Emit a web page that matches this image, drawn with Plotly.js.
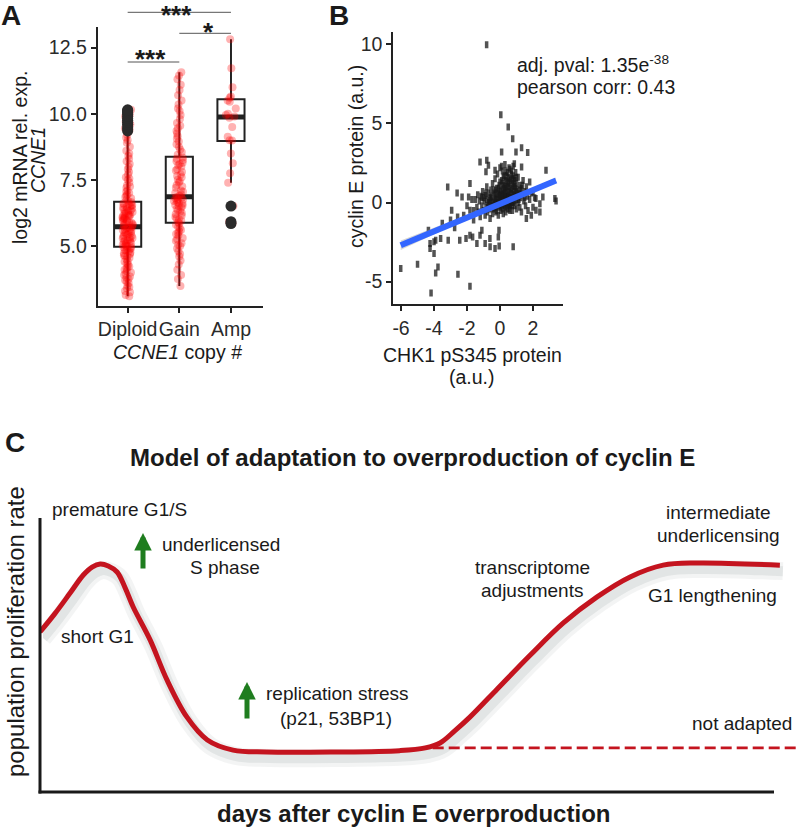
<!DOCTYPE html>
<html><head><meta charset="utf-8">
<script src="https://cdn.plot.ly/plotly-3.0.1.min.js"></script>
<style>html,body{margin:0;padding:0;background:#fff}#chart{width:806px;height:827px}</style>
</head><body><div id="chart"></div>
<script>
// ---------- Panel A data ----------
const cats = ['Diploid', 'Gain', 'Amp'];
const boxQ1 = [4.97, 5.88, 8.97];
const boxMedian = [5.73, 6.86, 9.88];
const boxQ3 = [6.67, 8.37, 10.55];
const boxLow = [3.1, 3.49, 7.39];
const boxHigh = [9.22, 11.57, 12.82];
const diploidOutliers = [9.35, 9.42, 9.5, 9.6, 9.68, 9.75, 9.82, 9.9, 9.97, 10.03, 10.08, 10.12, 10.15];
const ampOutliers = [6.51, 5.92, 5.85];
const diploidValues = [3.1, 3.15, 3.25, 3.3, 3.4, 3.45, 3.5, 3.6, 3.65, 3.7, 3.75, 3.8, 3.85, 3.9, 3.95, 4.0,
  4.05, 4.1, 4.15, 4.2, 4.22, 4.3, 4.35, 4.4, 4.42, 4.5, 4.55, 4.6, 4.62, 4.65, 4.7, 4.72, 4.75, 4.8, 4.82, 4.85, 4.88, 4.9, 4.92, 4.95, 4.98,
  5.0, 5.02, 5.05, 5.08, 5.1, 5.12, 5.15, 5.18, 5.2, 5.22, 5.25, 5.28, 5.3, 5.33, 5.35, 5.38, 5.4, 5.42, 5.45, 5.48, 5.5, 5.52, 5.55, 5.58, 5.6, 5.62, 5.65, 5.68, 5.7, 5.72,
  5.75, 5.78, 5.8, 5.83, 5.85, 5.88, 5.9, 5.93, 5.95, 5.98, 6.0, 6.03, 6.05, 6.08, 6.1, 6.12, 6.13, 6.15, 6.18, 6.2, 6.22, 6.25, 6.28, 6.3, 6.33, 6.35, 6.38, 6.4, 6.42, 6.45, 6.48, 6.5, 6.52, 6.55, 6.58, 6.6, 6.62, 6.65,
  6.7, 6.75, 6.8, 6.85, 6.9, 6.95, 7.0, 7.05, 7.1, 7.2, 7.25, 7.3, 7.4, 7.5, 7.55, 7.6, 7.7, 7.8, 7.9, 8.0, 8.1, 8.2, 8.3, 8.4, 8.5, 8.6, 8.75, 8.9, 9.0, 9.1, 9.2,
  9.35, 9.4, 9.45, 9.5, 9.6, 9.7, 9.75, 9.8, 9.9, 9.95, 10.0, 10.05, 10.1, 10.15];
const gainValues = [3.49, 3.75, 3.9, 4.1, 4.3, 4.45, 4.6, 4.7, 4.8, 4.9, 5.0, 5.05, 5.1, 5.2, 5.25, 5.3, 5.4, 5.45, 5.5, 5.55, 5.6, 5.68, 5.72, 5.8, 5.85,
  5.9, 5.95, 6.0, 6.05, 6.1, 6.15, 6.2, 6.25, 6.3, 6.35, 6.4, 6.45, 6.5, 6.52, 6.55, 6.6, 6.62, 6.65, 6.7, 6.72, 6.75, 6.78, 6.8, 6.82, 6.85,
  6.9, 6.95, 7.0, 7.05, 7.1, 7.2, 7.25, 7.3, 7.4, 7.45, 7.5, 7.6, 7.65, 7.7, 7.8, 7.85, 7.9, 8.0, 8.05, 8.1, 8.15, 8.2, 8.25, 8.3, 8.35,
  8.45, 8.55, 8.65, 8.75, 8.85, 8.95, 9.05, 9.15, 9.25, 9.35, 9.45, 9.55, 9.65, 9.8, 9.95, 10.1, 10.2, 10.35, 10.5, 10.7, 10.9, 11.1, 11.3, 11.45, 11.57];
const ampValues = [12.82, 11.72, 11.0, 10.65, 10.6, 10.5, 10.45, 10.2, 10.0, 9.95, 9.9, 9.85, 9.5, 9.13, 9.0, 8.99, 8.5, 8.13, 7.75, 7.39, 6.51, 5.92, 5.85];
const aYTicks = [5, 7.5, 10, 12.5];
const aYTickText = ['5.0', '7.5', '10.0', '12.5'];

// ---------- Panel B data ----------
const bPoints = [
  [-1.5,0.2],[-1.4,-0.3],[-1.35,0.5],[-1.3,-0.6],[-1.25,0.1],[-1.2,-0.9],[-1.15,0.4],[-1.1,-0.2],[-1.05,0.7],[-1.0,-0.5],
  [-0.95,0.1],[-0.9,-0.8],[-0.9,0.45],[-0.85,-0.3],[-0.8,0.2],[-0.8,1.0],[-0.75,-0.6],[-0.7,0.0],[-0.7,0.6],[-0.65,-0.4],
  [-0.6,0.3],[-0.6,-1.0],[-0.55,0.8],[-0.5,-0.2],[-0.5,0.4],[-0.45,-0.7],[-0.45,1.2],[-0.4,0.1],[-0.4,-0.4],[-0.35,0.6],
  [-0.3,-0.1],[-0.3,1.5],[-0.25,0.3],[-0.25,-0.6],[-0.2,0.9],[-0.2,0.0],[-0.15,-0.3],[-0.15,1.8],[-0.1,0.5],[-0.1,-0.8],
  [-0.05,0.2],[-0.05,1.1],[0.0,-0.2],[0.0,0.7],[0.0,2.2],[0.05,0.1],[0.05,-0.5],[0.1,1.4],[0.1,0.4],[0.1,-0.1],
  [0.15,0.8],[0.15,2.0],[0.2,0.0],[0.2,-0.7],[0.2,1.1],[0.25,0.5],[0.25,1.7],[0.3,-0.3],[0.3,0.2],[0.3,2.4],
  [0.35,0.9],[0.35,-0.6],[0.4,0.4],[0.4,1.3],[0.4,0.0],[0.45,1.9],[0.45,-0.2],[0.5,0.7],[0.5,0.3],[0.5,1.6],
  [0.55,-0.4],[0.55,1.0],[0.6,0.1],[0.6,2.1],[0.6,0.6],[0.65,1.4],[0.65,-0.1],[0.7,0.8],[0.7,0.3],[0.7,1.8],
  [0.75,-0.5],[0.75,1.1],[0.8,0.5],[0.8,2.3],[0.8,0.0],[0.85,1.5],[0.85,0.7],[0.9,-0.2],[0.9,1.0],[0.95,0.4],
  [0.95,1.9],[1.0,0.2],[1.0,1.2],[1.0,-0.4],[1.05,0.8],[1.1,1.6],[1.1,0.0],[1.15,0.6],[1.2,-0.3],[1.2,1.1],
  [1.25,0.3],[1.3,0.9],[1.3,-0.6],[1.35,0.5],[1.4,1.4],[1.45,0.1],[1.5,0.7],[1.55,-0.2],[1.6,1.0],[1.65,0.4],
  [1.7,-0.5],[1.8,0.2],[1.9,0.6],[2.0,-0.3],[2.1,0.3],
  [-1.0,0.3],[-0.3,0.5],[0.2,0.3],[0.4,0.8],[0.6,-0.2],[0.0,0.3],[-0.2,-0.5],[0.3,1.0],[0.7,0.0],[0.9,0.5],
  [-0.6,-0.1],[-0.1,0.9],[0.5,-0.1],[1.0,0.7],[0.15,0.5],[0.45,0.4],[-0.4,0.8],[0.25,-0.2],[0.8,1.2],[0.35,0.3],
  [-0.2,0.2],[0.0,0.5],[0.1,0.1],[0.2,0.6],[0.3,0.4],[0.4,0.2],[0.5,0.5],[0.6,0.3],[0.7,0.6],[0.8,0.3],
  [-0.1,0.0],[0.05,0.8],[0.15,1.2],[0.25,0.9],[0.35,1.4],[0.45,1.0],[0.55,1.3],[0.65,0.9],[0.75,1.5],[0.85,1.0],
  [-0.3,0.2],[-0.45,0.0],[-0.55,0.3],[-0.15,0.6],[0.05,-0.3],[0.15,-0.4],[0.3,-0.1],[0.45,-0.4],[0.6,-0.5],[0.75,-0.2],
  [0.9,0.1],[1.05,0.4],[1.15,0.2],[1.25,0.8],[0.95,0.9],[0.55,0.1],[0.25,0.1],[-0.05,0.4],[-0.25,0.8],[-0.35,-0.3],
  [0.0,1.3],[0.2,1.6],[0.4,1.7],[0.6,1.5],[0.8,1.7],[0.1,2.3],[0.35,2.0],[0.55,2.2],[0.7,2.0],[0.5,1.2],
  [-0.65,0.15],[-0.85,0.6],[-1.1,0.3],[-0.75,-0.2],[1.35,1.1],[1.5,0.3],[1.2,0.5],[0.9,1.4],[1.0,1.6],[0.3,0.6],
  [-0.81,9.98],[0.05,5.55],[0.5,4.78],[0.77,4.04],[1.31,3.47],[1.68,3.16],[0.1,3.2],[0.97,3.2],[-1.21,2.57],[-0.8,2.68],
  [-0.7,2.36],[-0.85,1.95],[-0.3,2.04],[0.87,2.46],[1.31,2.25],[2.79,2.04],[-1.82,1.2],[-3.17,0.99],[-2.3,0.35],[-1.9,0.35],
  [-2.93,-0.49],[-2.57,-0.91],[-1.82,-0.49],[-1.6,-1.1],[-4.34,-1.75],[-3.0,-1.1],[-2.75,-1.6],[-3.6,-2.27],[-3.14,-2.38],[-2.44,-2.38],
  [-2.06,-2.27],[-1.82,-2.06],[-1.66,-2.17],[-1.21,-2.06],[-1.1,-1.75],[-0.61,-2.27],[-0.1,-2.17],[-0.06,-1.75],[-1.4,-2.59],[-0.9,-2.59],
  [-0.6,-2.8],[-0.3,-2.9],[-0.05,-2.75],[0.8,-2.8],[-4.24,-2.59],[-4.0,-2.48],[-3.9,-2.38],[-4.24,-2.9],[-4.0,-3.22],[-3.9,-4.45],
  [-3.76,-4.08],[-5.0,-3.9],[-6.02,-4.17],[-4.18,-5.71],[-2.55,-4.53],[-1.82,-5.29],[2.18,0.25],[2.42,-0.07],[2.6,0.35],[3.33,0.25],
  [3.4,0.1],[2.18,-0.49],[2.42,-0.6],[1.9,-0.8],[1.6,-1.0],[2.0,0.67],[1.8,1.3],[-2.6,0.6],[-2.0,-0.2],[-2.2,-0.8],
  [-1.7,0.2],[-1.6,-0.5],[-3.5,-1.3]
];
const fitX = [-6.02, 3.4];
const fitY = [-2.7, 1.4];
const ciX = [-6.02, -0.3, 3.4];
const ciLow = [-3.0, -0.2, 1.25];
const ciHigh = [-2.4, -0.1, 1.58];
const bXTicks = [-6, -4, -2, 0, 2];
const bXTickText = ['-6', '-4', '-2', '0', '2'];
const bYTicks = [-5, 0, 5, 10];
const bYTickText = ['-5', '0', '5', '10'];

// ---------- Panel C data (schematic curve) ----------
const curveDays = [0, 2.0, 4.1, 5.9, 7.1, 8.2, 9.3, 10.5, 11.6, 12.7, 15.0, 17.3, 20.0, 22.8, 26.3, 30.9, 39.9, 49.0, 52.5, 54.5, 56.5, 58.6, 62.3, 66.8, 71.3, 75.9, 80.4, 84.9, 89.5, 100.8];
const curveRate = [58.4, 65.0, 72.6, 79.2, 82.1, 83.2, 82.5, 80.3, 74.5, 67.5, 55.5, 40.9, 27.4, 19.0, 15.3, 14.6, 14.6, 15.1, 16.1, 17.9, 22.3, 27.4, 37.6, 50.0, 61.7, 71.2, 78.5, 82.8, 83.6, 82.8];
const notAdaptedDays = [53.5, 103.3];
const notAdaptedRate = [16.1, 16.1];

// ---------- helpers (pixel -> paper) ----------
const W = 806, H = 827;
const px = v => v / W;
const py = v => 1 - v / H;
const FONT = 'Liberation Sans, Arial, Helvetica, sans-serif';
const INK = '#1a1a1a';
const AX = '#222222';

const traces = [];
traces.push({type:'box', x: cats, q1: boxQ1, median: boxMedian, q3: boxQ3, lowerfence: boxLow, upperfence: boxHigh,
  fillcolor:'white', line:{color:AX, width:2}, whiskerwidth:0, boxpoints:false, hoverinfo:'skip', xaxis:'x', yaxis:'y'});
traces.push({type:'box', x: cats, q1: boxMedian, median: boxMedian, q3: boxMedian, lowerfence: boxMedian, upperfence: boxMedian,
  fillcolor:'rgba(0,0,0,0)', line:{color:AX, width:5}, whiskerwidth:0, boxpoints:false, hoverinfo:'skip', xaxis:'x', yaxis:'y'});
traces.push({type:'scatter', mode:'markers', x: diploidOutliers.map(() => 'Diploid'), y: diploidOutliers,
  marker:{color:'#2b2b2b', size:11}, hoverinfo:'skip', xaxis:'x', yaxis:'y'});
traces.push({type:'scatter', mode:'markers', x: ampOutliers.map(() => 'Amp'), y: ampOutliers,
  marker:{color:'#2b2b2b', size:11}, hoverinfo:'skip', xaxis:'x', yaxis:'y'});
[[diploidValues,'Diploid'],[gainValues,'Gain'],[ampValues,'Amp']].forEach(([vals, c]) => {
  traces.push({type:'box', y: vals, x0: c, name: c, boxpoints:'all', jitter:0.4, pointpos:0,
    marker:{color:'rgba(255,0,0,0.3)', size:8}, line:{color:'rgba(0,0,0,0)', width:0},
    fillcolor:'rgba(0,0,0,0)', whiskerwidth:0, hoverinfo:'skip', xaxis:'x', yaxis:'y'});
});
traces.push({type:'scatter', mode:'markers', x: bPoints.map(p => p[0]), y: bPoints.map(p => p[1]),
  marker:{symbol:'line-ns', size:5, line:{width:3.5, color:'rgba(25,25,25,0.75)'}}, hoverinfo:'skip', xaxis:'x2', yaxis:'y2'});
traces.push({type:'scatter', mode:'lines', x: ciX, y: ciHigh, line:{width:0, color:'rgba(0,0,0,0)'}, hoverinfo:'skip', xaxis:'x2', yaxis:'y2'});
traces.push({type:'scatter', mode:'lines', x: ciX, y: ciLow, fill:'tonexty', fillcolor:'rgba(153,153,153,0.4)', line:{width:0, color:'rgba(0,0,0,0)'}, hoverinfo:'skip', xaxis:'x2', yaxis:'y2'});
traces.push({type:'scatter', mode:'lines', x: fitX, y: fitY, line:{color:'#3366FF', width:6}, hoverinfo:'skip', xaxis:'x2', yaxis:'y2'});
traces.push({type:'scatter', mode:'lines', x: curveDays, y: curveRate, line:{color:'rgba(80,95,95,0.07)', width:18, shape:'spline', smoothing:1}, hoverinfo:'skip', xaxis:'x3', yaxis:'y3'});
traces.push({type:'scatter', mode:'lines', x: curveDays, y: curveRate, line:{color:'rgba(80,95,95,0.10)', width:10, shape:'spline', smoothing:1}, hoverinfo:'skip', xaxis:'x3', yaxis:'y3'});
traces.push({type:'scatter', mode:'lines', x: notAdaptedDays, y: notAdaptedRate, line:{color:'#c4141f', width:2.6, dash:'11px,5px'}, hoverinfo:'skip', xaxis:'x4', yaxis:'y4'});
traces.push({type:'scatter', mode:'lines', x: curveDays, y: curveRate, line:{color:'#c4141f', width:5, shape:'spline', smoothing:1}, hoverinfo:'skip', xaxis:'x4', yaxis:'y4'});

const axStyle = {showline:true, linewidth:2, linecolor:AX, ticks:'outside', ticklen:5, tickwidth:2, tickcolor:AX,
  tickfont:{family:FONT, size:19.5, color:'#2a2a2a'}, showgrid:false, zeroline:false, fixedrange:true, tickangle:0};

function ann(text, x, y, opts) {
  return Object.assign({text, x: px(x), y: py(y), xref:'paper', yref:'paper', showarrow:false,
    xanchor:'center', yanchor:'middle', font:{family:FONT, size:19, color:INK}}, opts || {});
}
function f(size, extra) { return Object.assign({family:FONT, size, color:INK}, extra || {}); }

const annotations = [
  ann('<b>A</b>', 11, 15, {font:f(28)}),
  ann('log2 mRNA rel. exp.', 20, 158, {textangle:-90, font:f(19.5)}),
  ann('<i>CCNE1</i>', 38, 160, {textangle:-90, font:f(19.5)}),
  ann('<i>CCNE1</i> copy #', 177, 352, {font:f(19.5)}),
  ann('<b>***</b>', 176, 15, {font:f(26)}),
  ann('<b>*</b>', 208, 32, {font:f(26)}),
  ann('<b>***</b>', 150, 59, {font:f(26)}),
  ann('<b>B</b>', 339, 16, {font:f(28)}),
  ann('cyclin E protein (a.u.)', 356, 157, {textangle:-90, font:f(19.5)}),
  ann('CHK1 pS345 protein', 472, 355, {font:f(19.5)}),
  ann('(a.u.)', 472, 377, {font:f(19.5)}),
  ann('adj. pval: 1.35e<sup>-38</sup>', 515, 64, {xanchor:'left', font:f(19.5)}),
  ann('pearson corr: 0.43', 515, 87, {xanchor:'left', font:f(19.5)}),
  ann('<b>C</b>', 15, 442, {font:f(28)}),
  ann('<b>Model of adaptation to overproduction of cyclin E</b>', 412, 458, {font:f(24)}),
  ann('population proliferation rate', 15, 632, {textangle:-90, font:f(24)}),
  ann('<b>days after cyclin E overproduction</b>', 414, 813, {font:f(24)}),
  ann('premature G1/S', 119, 510),
  ann('underlicensed', 221, 544),
  ann('S phase', 225, 567),
  ann('short G1', 97, 636),
  ann('replication stress', 337, 693),
  ann('(p21, 53BP1)', 336, 718),
  ann('transcriptome', 532, 567),
  ann('adjustments', 532, 590),
  ann('intermediate', 718, 512),
  ann('underlicensing', 718, 535),
  ann('G1 lengthening', 712, 595),
  ann('not adapted', 742, 723),
  {text:'', xref:'paper', yref:'paper', x:px(143), y:py(533), ax:0, ay:37, showarrow:true, arrowhead:2, arrowsize:0.7, arrowwidth:5, arrowcolor:'#1f7d1f'},
  {text:'', xref:'paper', yref:'paper', x:px(247), y:py(682), ax:0, ay:38, showarrow:true, arrowhead:2, arrowsize:0.7, arrowwidth:5, arrowcolor:'#1f7d1f'}
];

const shapes = [
  {type:'line', xref:'x', yref:'paper', x0:0, x1:2, y0:py(12.3), y1:py(12.3), line:{color:'#555', width:1}},
  {type:'line', xref:'x', yref:'paper', x0:1, x1:2, y0:py(33.3), y1:py(33.3), line:{color:'#555', width:1}},
  {type:'line', xref:'x', yref:'paper', x0:0, x1:1, y0:py(62), y1:py(62), line:{color:'#555', width:1}},
  {type:'line', xref:'paper', yref:'paper', x0:px(38.5), x1:px(774), y0:py(792), y1:py(792), line:{color:INK, width:3}},
  {type:'line', xref:'paper', yref:'paper', x0:px(40), x1:px(40), y0:py(518), y1:py(793.5), line:{color:INK, width:3}}
];

const layout = {
  width: W, height: H, margin:{l:0, r:0, t:0, b:0}, paper_bgcolor:'white', plot_bgcolor:'rgba(0,0,0,0)',
  showlegend:false, hovermode:false, boxmode:'overlay', boxgap:0.25,
  font:{family:FONT, color:INK},
  xaxis: Object.assign({}, axStyle, {domain:[px(97.7), px(263)], type:'category', categoryorder:'array', categoryarray:cats, range:[-0.58, 2.62], anchor:'y'}),
  yaxis: Object.assign({}, axStyle, {domain:[py(306), py(27)], range:[2.73, 13.28], tickvals:aYTicks, ticktext:aYTickText, anchor:'x'}),
  xaxis2: Object.assign({}, axStyle, {domain:[px(393.3), px(563.3)], range:[-6.47, 3.84], tickvals:bXTicks, ticktext:bXTickText, anchor:'y2'}),
  yaxis2: Object.assign({}, axStyle, {domain:[py(304.3), py(32.3)], range:[-6.43, 10.76], tickvals:bYTicks, ticktext:bYTickText, anchor:'x2'}),
  xaxis3: {domain:[px(43), px(802.7)], range:[0, 103.5], visible:false, fixedrange:true, anchor:'y3'},
  yaxis3: {domain:[py(798), py(524)], range:[0, 100], visible:false, fixedrange:true, anchor:'x3'},
  xaxis4: {domain:[px(40), px(799.7)], range:[0, 103.5], visible:false, fixedrange:true, anchor:'y4'},
  yaxis4: {domain:[py(792), py(518)], range:[0, 100], visible:false, fixedrange:true, anchor:'x4'},
  annotations, shapes
};

Plotly.newPlot('chart', traces, layout, {staticPlot:true, displayModeBar:false});
</script></body></html>
